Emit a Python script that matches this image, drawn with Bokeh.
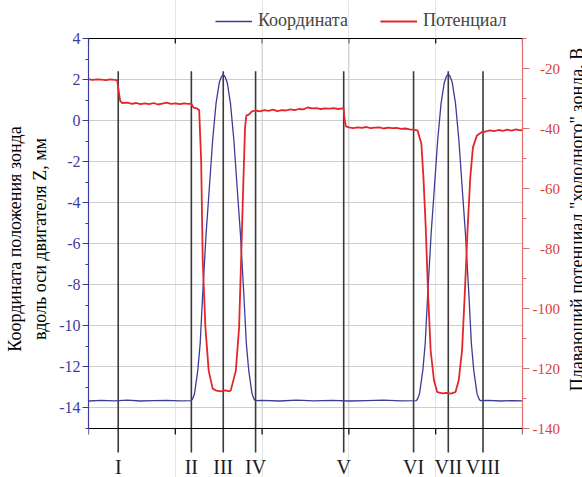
from bokeh.plotting import figure
from bokeh.models import (LinearAxis, Range1d, SingleIntervalTicker, FixedTicker,
                          Legend, LegendItem, Span, Label, CustomJSTickFormatter)
from bokeh.embed import file_html
from bokeh.resources import INLINE
from bokeh.core.properties import value

# ---------------- data ----------------
# probe coordinate Z (mm), left axis
coord_t = [0, 3, 6, 9, 12, 15, 18, 21, 23.68, 24.0, 24.43, 25.18, 25.73, 26.32, 27.1, 27.85,
           28.6, 29.38, 30.14, 30.6, 31.05, 31.5, 31.96, 32.72, 33.5, 34.25, 35.0, 35.78,
           36.37, 36.92, 37.67, 38.1, 38.42, 40, 44, 48, 52, 56, 60, 64, 68, 72, 75.53,
           75.85, 76.28, 77.03, 77.58, 78.17, 78.95, 79.7, 80.45, 81.23, 81.99, 82.45, 82.9,
           83.35, 83.81, 84.57, 85.35, 86.1, 86.85, 87.63, 88.22, 88.77, 89.52, 89.95, 90.27,
           92, 95, 98, 100]
coord_z = [-13.66, -13.63, -13.65, -13.62, -13.66, -13.64, -13.63, -13.65, -13.64, -13.55,
           -13.3, -12.17, -10.86, -8.42, -5.5, -3.26, -0.97, 0.83, 1.86, 2.12, 2.25, 2.12,
           1.86, 0.83, -0.97, -3.26, -5.5, -8.42, -10.86, -12.17, -13.3, -13.55, -13.64,
           -13.63, -13.66, -13.62, -13.65, -13.63, -13.66, -13.64, -13.62, -13.65, -13.64,
           -13.55, -13.3, -12.17, -10.86, -8.42, -5.5, -3.26, -0.97, 0.83, 1.86, 2.14, 2.28,
           2.14, 1.86, 0.83, -0.97, -3.26, -5.5, -8.42, -10.86, -12.17, -13.3, -13.55, -13.64,
           -13.63, -13.66, -13.64, -13.65]

# floating potential (V), right axis
pot_t = [0, 1, 2, 3, 4, 5, 6, 6.6, 6.9, 7.3, 7.8, 9, 10, 11, 12, 13, 14, 15, 16, 17, 18,
         19, 20, 21, 22, 23, 23.7, 24.0, 24.3, 25.0, 25.5, 25.96, 26.32, 26.94, 27.69, 28.61,
         29.5, 30.5, 31.5, 32.5, 32.8, 33.95, 34.7, 35.16, 35.6, 36.07, 36.37, 37.0, 37.67,
         38.5, 39.5, 40.5, 41.5, 42.5, 43.5, 44.5, 45.5, 46.5, 47.5, 48.5, 49.5, 50.5, 51.5,
         52.5, 53.5, 54.5, 55.5, 56.5, 57.5, 58.5, 58.8, 59.0, 59.3, 60, 61, 62, 63, 64, 65,
         66, 67, 68, 69, 70, 71, 72, 73, 74, 74.9, 75.8, 76.7, 77.17, 77.7, 78.24, 78.84,
         79.6, 80.37, 81.5, 82.5, 83.5, 84.54, 85.3, 86.07, 86.7, 87.37, 87.97, 88.58, 89.5,
         90.64, 91.5, 92.5, 93.5, 94.5, 95.5, 96.5, 97.5, 98.5, 99.5, 100]
pot_v = [-23.6, -23.8, -23.6, -23.7, -23.9, -23.6, -23.8, -23.9, -27.0, -30.8, -31.5, -31.4,
         -31.8, -31.5, -31.9, -31.6, -31.9, -31.5, -32.0, -31.7, -31.4, -31.8, -31.6, -31.9,
         -31.6, -31.8, -31.7, -32.6, -33.1, -33.3, -33.8, -50.7, -84.0, -106.3, -120.7,
         -126.7, -127.4, -127.6, -127.3, -127.6, -127.2, -120.7, -106.3, -84.0, -61.7, -39.7,
         -35.7, -35.3, -34.3, -34.0, -34.3, -33.9, -34.1, -33.7, -34.2, -33.9, -34.0, -33.6,
         -33.9, -33.5, -33.6, -33.0, -33.3, -33.2, -33.5, -33.3, -33.4, -33.2, -33.5, -33.3,
         -33.4, -37.0, -39.3, -39.6, -39.9, -39.6, -39.8, -39.5, -39.9, -39.7, -39.6, -40.0,
         -39.7, -39.9, -39.8, -40.1, -40.0, -40.3, -40.4, -40.6, -45.1, -56.2, -72.9, -95.1,
         -114.0, -124.0, -127.9, -128.3, -128.1, -128.4, -127.9, -124.0, -114.0, -95.1,
         -72.9, -56.2, -46.3, -42.3, -41.2, -41.0, -40.6, -40.9, -40.5, -40.8, -40.4, -40.7,
         -40.3, -40.6, -40.5]

marker_t = [6.85, 23.7, 31.05, 38.5, 58.8, 74.9, 82.9, 90.9]
marker_labels = ["I", "II", "III", "IV", "V", "VI", "VII", "VIII"]

x_ticks = [0, 20, 40, 60, 80, 100]
x_grid = [40, 60]
left_grid = [-14, -12, -10, -8, -6, -4, -2, 0, 2]

series_names = ["Координата", "Потенциал"]
left_title = "Координата положения зонда\nвдоль оси двигателя Z, мм"
right_title = "Плавающий потенциал \"холодного\" зонда, В"

# ---------------- styling ----------------
FONT = "Liberation Serif"
BLUE = "#3c3c96"
BLUE_TXT = "#40409a"
RED = "#e3262b"
RED_AX = "#e07070"
RED_TXT = "#d94040"
GRID = "#cdcdcd"
MARK = "#3a3a3a"

W, H = 582, 477
F_LEFT, F_RIGHT = 88, 526
AX_TOP_PX, AX_BOTTOM_PX = 38, 428
ppu_left = (AX_BOTTOM_PX - AX_TOP_PX) / 19.0      # px per mm
ppu_right = (AX_BOTTOM_PX - AX_TOP_PX) / 130.0    # px per V
y_lo = -15 - (H - AX_BOTTOM_PX) / ppu_left
y_hi = 4 + AX_TOP_PX / ppu_left
y2_lo = -140 - (H - AX_BOTTOM_PX) / ppu_right
y2_hi = -10 + AX_TOP_PX / ppu_right

p = figure(width=W, height=H, x_range=Range1d(0, 100), y_range=Range1d(y_lo, y_hi),
           output_backend="svg", toolbar_location=None, x_axis_location=None,
           min_border_left=F_LEFT, min_border_right=W - F_RIGHT, min_border_top=0,
           min_border_bottom=0)
p.outline_line_color = None
p.background_fill_color = "white"
p.border_fill_color = "white"
p.ygrid.ticker = FixedTicker(ticks=left_grid)
p.ygrid.grid_line_color = GRID
p.ygrid.grid_line_width = 1

# left axis
ya = p.yaxis[0]
ya.bounds = (-15, 4)
ya.ticker = SingleIntervalTicker(interval=2, num_minor_ticks=2)
ya.formatter = CustomJSTickFormatter(code="return tick.toString();")
ya.axis_line_color = BLUE
ya.axis_line_width = 1.2
ya.major_tick_line_color = BLUE
ya.minor_tick_line_color = BLUE
ya.major_tick_out = 6
ya.major_tick_in = 0
ya.minor_tick_out = 3
ya.minor_tick_in = 0
ya.major_label_standoff = 2
ya.major_label_text_color = BLUE_TXT
ya.major_label_text_font = FONT
ya.major_label_text_font_size = "16px"
ya.axis_label = left_title
ya.axis_label_text_font = FONT
ya.axis_label_text_font_size = "18px"
ya.axis_label_text_font_style = "normal"
ya.axis_label_text_color = "black"
ya.axis_label_text_align = "center"
ya.axis_label_text_line_height = 1.25
ya.axis_label_standoff = 6

# right axis
p.extra_y_ranges = {"pot": Range1d(y2_lo, y2_hi)}
ra = LinearAxis(y_range_name="pot", bounds=(-140, -10),
                ticker=SingleIntervalTicker(interval=20, num_minor_ticks=2))
ra.formatter = CustomJSTickFormatter(code="return (tick > -100 ? '\\u2002' : '') + tick;")
ra.axis_line_color = RED_AX
ra.axis_line_width = 1.2
ra.major_tick_line_color = RED_AX
ra.minor_tick_line_color = RED_AX
ra.major_tick_out = 7
ra.major_tick_in = 0
ra.minor_tick_out = 4
ra.minor_tick_in = 0
ra.major_label_standoff = 3
ra.major_label_text_color = RED_TXT
ra.major_label_text_font = FONT
ra.major_label_text_font_size = "15px"
p.add_layout(ra, "right")

# right-axis title, reading bottom to top, placed in the right side panel
# (that panel starts just past the right axis' tick labels)
p.add_layout(Label(x=14, y=H - 219, x_units="screen", y_units="screen",
                   text=right_title, angle=90, angle_units="deg", text_align="center",
                   text_baseline="alphabetic", text_font=FONT, text_font_size="18px",
                   text_color="black"), "right")

# top and bottom frame lines with ticks
p.add_layout(Span(location=4, dimension="width", line_color="black", line_width=1.2))
p.add_layout(Span(location=-15, dimension="width", line_color="black", line_width=1.2))
p.segment(x0=x_ticks, x1=x_ticks, y0=4, y1=4 - 5 / ppu_left, line_color="black",
          line_width=1.2)
p.segment(x0=x_ticks, x1=x_ticks, y0=-15, y1=-15 - 6 / ppu_left, line_color="black",
          line_width=1.2)

# vertical grid lines
p.segment(x0=x_grid, x1=x_grid, y0=-15, y1=4, line_color=GRID, line_width=1)

# marker lines and Roman labels
p.segment(x0=marker_t, x1=marker_t, y0=2.4, y1=-15 - 24 / ppu_left, line_color=MARK,
          line_width=1.6)
p.text(x=marker_t, y=-15 - 38 / ppu_left, text=marker_labels, text_align="center",
       text_baseline="middle", text_font=value(FONT), text_font_size="20px",
       text_color="#1a1a1a")

# curves
r_blue = p.line(coord_t, coord_z, line_color=BLUE, line_width=1.3)
r_red = p.line(pot_t, pot_v, line_color=RED, line_width=1.8, y_range_name="pot")

legend = Legend(items=[LegendItem(label=series_names[0], renderers=[r_blue]),
                       LegendItem(label=series_names[1], renderers=[r_red])],
                orientation="horizontal", location=(215 - F_LEFT, H - 31),
                background_fill_alpha=0, border_line_alpha=0, padding=0, margin=0,
                spacing=32, glyph_width=37, label_standoff=6,
                label_text_font=FONT, label_text_font_size="18px")
p.add_layout(legend)

open("out.html", "w").write(file_html(p, INLINE))
